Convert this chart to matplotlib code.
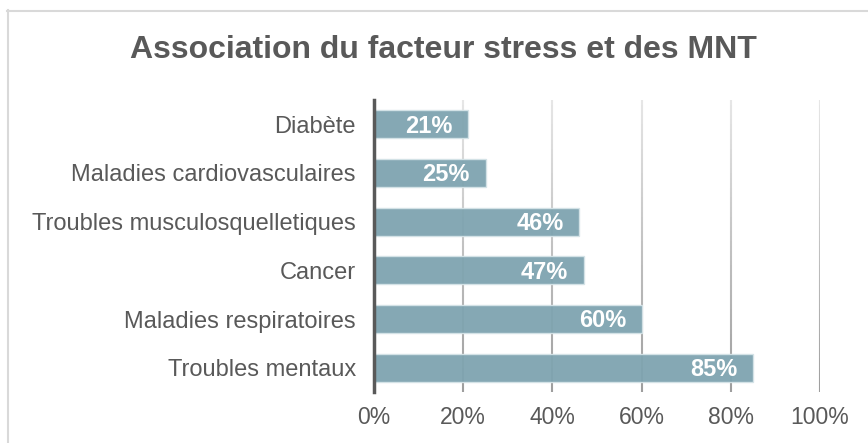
import matplotlib
matplotlib.use("Agg")
import matplotlib.pyplot as plt
import numpy as np
from matplotlib.collections import LineCollection
from matplotlib.lines import Line2D

categories = ["Diabète", "Maladies cardiovasculaires", "Troubles musculosquelletiques",
              "Cancer", "Maladies respiratoires", "Troubles mentaux"]
values = [21, 25, 46, 47, 60, 85]
labels = ["21%", "25%", "46%", "47%", "60%", "85%"]
xticks = [0, 20, 40, 60, 80, 100]
xticklabels = ["0%", "20%", "40%", "60%", "80%", "100%"]
title = "Association du facteur stress et des MNT"

plt.rcParams['font.family'] = ['Liberation Sans', 'DejaVu Sans']
txt = "#595959"

fig = plt.figure(figsize=(8.68, 4.43), dpi=100)
ax = fig.add_axes([0.4309, 0.1151, 0.5138, 0.6592])

y = np.arange(len(categories))
ax.set_ylim(len(categories) - 0.5, -0.5)
ax.set_xlim(0, 100)

# gradient gridlines
ylo, yhi = ax.get_ylim()
for t in xticks[1:]:
    n = 60
    ys = np.linspace(ylo, yhi, n + 1)
    segs = [[(t, ys[i]), (t, ys[i + 1])] for i in range(n)]
    fr = np.linspace(0, 1, n)
    cols = [(0.62 + 0.28 * f, 0.62 + 0.28 * f, 0.62 + 0.28 * f, 1) for f in fr]
    lc = LineCollection(segs, colors=cols, linewidths=1.5, zorder=0.5)
    ax.add_collection(lc)

ax.barh(y, values, height=0.58, color="#7fa4b0", alpha=0.95,
        edgecolor="#d5e3e7", linewidth=1.0, zorder=2)

for yi, v, l in zip(y, values, labels):
    ax.text(v - 3.5, yi + 0.04, l, ha="right", va="center", color="white",
            fontsize=17, fontweight="bold", zorder=3)

ax.set_yticks(y)
ax.set_yticklabels(categories, fontsize=17, color=txt)
ax.set_xticks(xticks)
ax.set_xticklabels(xticklabels, fontsize=16.5, color=txt)
ax.tick_params(axis="both", length=0)
ax.tick_params(axis="y", pad=13)
ax.tick_params(axis="x", pad=10)
for s in ["top", "right", "bottom"]:
    ax.spines[s].set_visible(False)
ax.spines["left"].set_color("#595959")
ax.spines["left"].set_linewidth(2.5)
ax.spines["left"].set_zorder(4)

fig.text(443 / 868, 1 - 50 / 443, title, ha="center", va="center", fontsize=23,
         fontweight="bold", color=txt)

# chart area border (top and left visible)
fig.add_artist(Line2D([7 / 868, 1.0], [1 - 10.5 / 443, 1 - 10.5 / 443],
                      transform=fig.transFigure, color="#d9d9d9", lw=1.5))
fig.add_artist(Line2D([7.5 / 868, 7.5 / 868], [0, 1 - 10 / 443],
                      transform=fig.transFigure, color="#d9d9d9", lw=1.5))

fig.savefig("out.png", dpi=100)
